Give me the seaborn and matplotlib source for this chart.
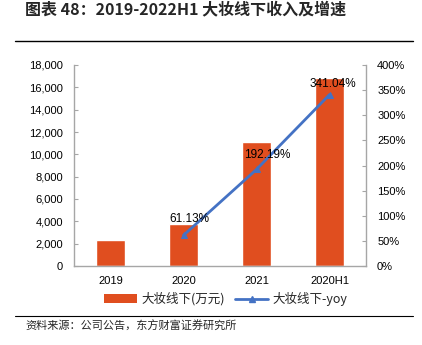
import numpy as np
import matplotlib
matplotlib.use("Agg")
import matplotlib.pyplot as plt
from matplotlib.lines import Line2D
from matplotlib.patches import Patch
from matplotlib.ticker import FuncFormatter, FixedLocator
import seaborn as sns

# Data
categories = ["2019", "2020", "2021", "2020H1"]
revenue = [2350, 3790, 11070, 16850]          # 大妆线下 (万元)
yoy_categories = ["2020", "2021", "2020H1"]
yoy = [61.13, 192.19, 341.04]                 # 大妆线下-yoy (%)

sns.set_style("white")
plt.rcParams["font.family"] = ["Liberation Sans", "Noto Sans CJK SC", "DejaVu Sans"]
cjk = ["Noto Sans CJK SC", "DejaVu Sans"]

bar_color = "#E04E1F"
line_color = "#4472C4"
axis_gray = "#A6A6A6"

W, H = 422, 345
fig = plt.figure(figsize=(W / 100, H / 100), dpi=100)
ax = fig.add_axes([74 / W, 1 - 266 / H, (366 - 74) / W, (266 - 65) / H])

sns.barplot(x=categories, y=revenue, color=bar_color, saturation=1,
            width=0.4, ax=ax)
ax.set_xlim(-0.5, 3.5)
ax.set_ylim(0, 18000)
ax.set_yticks(np.arange(0, 18001, 2000))
ax.yaxis.set_major_formatter(FuncFormatter(lambda v, p: f"{int(v):,}"))
ax.set_xlabel("")
ax.set_ylabel("")

ax2 = ax.twinx()
x_pos = [categories.index(c) for c in yoy_categories]
sns.lineplot(x=x_pos, y=yoy, ax=ax2, color=line_color, linewidth=2,
             marker="^", markersize=5, markeredgecolor=line_color)
ax2.set_ylim(0, 400)
ax2.set_yticks(np.arange(0, 401, 50))
ax2.yaxis.set_major_formatter(FuncFormatter(lambda v, p: f"{int(v)}%"))
ax2.set_xlim(-0.5, 3.5)
ax2.set_ylabel("")

offsets = [(6, 16), (11, 14), (3, 11)]
for xp, v, off in zip(x_pos, yoy, offsets):
    ax2.annotate(f"{v:.2f}%", (xp, v), xytext=off, textcoords="offset pixels",
                 ha="center", va="center", fontsize=8.5, color="#000000")

# Spines and ticks
for a in (ax, ax2):
    a.spines["top"].set_visible(False)
    for s in ("left", "right", "bottom"):
        a.spines[s].set_color(axis_gray)
        a.spines[s].set_linewidth(1)
ax.spines["right"].set_visible(False)
ax2.spines["left"].set_visible(False)
ax2.spines["bottom"].set_visible(False)

ax.tick_params(axis="y", direction="in", length=3, color=axis_gray,
               labelsize=8, pad=8, labelcolor="#000000")
ax2.tick_params(axis="y", direction="in", length=3, color=axis_gray,
                labelsize=8, pad=8, labelcolor="#000000")
ax.tick_params(axis="x", which="major", length=0, labelsize=8, pad=7,
               labelcolor="#000000")
ax.xaxis.set_minor_locator(FixedLocator([0.5, 1.5, 2.5]))
ax.tick_params(axis="x", which="minor", direction="in", length=4,
               color=axis_gray)

# Legend
handles = [Patch(facecolor=bar_color, edgecolor="none"),
           Line2D([0], [0], color=line_color, lw=2, marker="^", markersize=4)]
fig.legend(handles, ["大妆线下(万元)", "大妆线下-yoy"],
           loc="center", bbox_to_anchor=(226 / W, 1 - 299 / H), ncol=2,
           frameon=False, prop={"family": cjk, "size": 9},
           handlelength=2.6, handletextpad=0.4, columnspacing=0.8)

# Title, rules and source
fig.text(25 / W, 1 - 9 / H, "图表 48：2019-2022H1 大妆线下收入及增速",
         ha="left", va="center", fontsize=11.5, fontweight="bold",
         family=cjk)
fig.add_artist(Line2D([15 / W, 413 / W], [1 - 41 / H, 1 - 41 / H],
                      color="#000000", lw=1))
fig.add_artist(Line2D([15 / W, 413 / W], [1 - 316 / H, 1 - 316 / H],
                      color="#000000", lw=0.8))
fig.text(25 / W, 1 - 326 / H, "资料来源：公司公告，东方财富证券研究所",
         ha="left", va="center", fontsize=8, family=cjk)

fig.savefig("out.png", dpi=100)
